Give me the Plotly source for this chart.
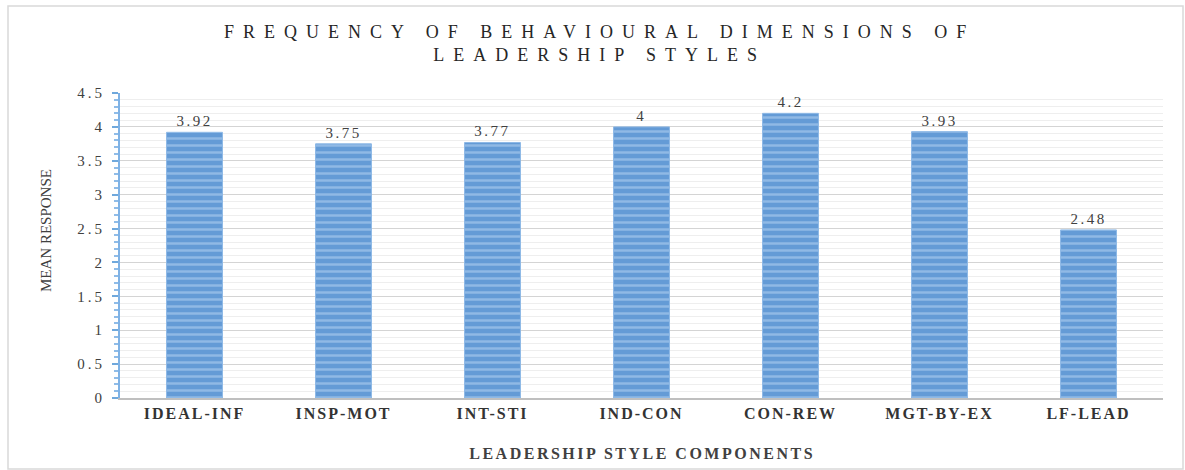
import plotly.graph_objects as go

categories = ["IDEAL-INF", "INSP-MOT", "INT-STI", "IND-CON", "CON-REW", "MGT-BY-EX", "LF-LEAD"]
mean_response = [3.92, 3.75, 3.77, 4, 4.2, 3.93, 2.48]
value_labels = ["3.92", "3.75", "3.77", "4", "4.2", "3.93", "2.48"]
y_tick_vals = [0, 0.5, 1, 1.5, 2, 2.5, 3, 3.5, 4, 4.5]
y_tick_text = ["0", "0.5", "1", "1.5", "2", "2.5", "3", "3.5", "4", "4.5"]

SERIF = "Liberation Serif, DejaVu Serif, serif"
W, H = 1185, 470
L, R, T, B = 120, 22, 93, 72
PW, PH = W - L - R, H - T - B

fig = go.Figure()
fig.add_trace(go.Bar(
    x=categories,
    y=mean_response,
    text=value_labels,
    textposition="outside",
    cliponaxis=False,
    textfont=dict(family=SERIF, size=15, color="#404040"),
    marker=dict(
        color="#6fa5dd",
        line=dict(color="#8db8e6", width=1),
        pattern=dict(shape="-", fgcolor="#bcd8f3", bgcolor="#649bd6", size=7, solidity=0.35),
    ),
    width=0.375,
    hoverinfo="x+y",
))

fig.update_layout(
    width=W, height=H,
    margin=dict(l=L, r=R, t=T, b=B, autoexpand=False),
    paper_bgcolor="white",
    plot_bgcolor="white",
    showlegend=False,
    title=dict(
        text="FREQUENCY OF BEHAVIOURAL DIMENSIONS OF<br>LEADERSHIP STYLES",
        x=0.506, xanchor="center", y=1 - 38 / H, yanchor="top",
        font=dict(family=SERIF, size=18, color="#262626"),
    ),
    font=dict(family=SERIF, color="#404040"),
    shapes=[dict(type="rect", xref="paper", yref="paper",
                 x0=-(L - 8) / PW, x1=(W - L - 2) / PW,
                 y0=-(B - 1) / PH, y1=(PH + T - 6) / PH,
                 line=dict(color="#d9d9d9", width=1.5), layer="below")],
    annotations=[
        dict(text="LEADERSHIP STYLE COMPONENTS", xref="paper", yref="paper",
             x=0.5, y=-(453 - T - PH) / PH, xanchor="center", yanchor="middle",
             showarrow=False,
             font=dict(family=SERIF, size=16, color="#404040", weight="bold")),
        dict(text="MEAN RESPONSE", xref="paper", yref="paper", textangle=-90,
             x=-(L - 46) / PW, y=(T + PH - 231) / PH, xanchor="center", yanchor="middle",
             showarrow=False,
             font=dict(family=SERIF, size=15, color="#404040")),
    ],
)

fig.update_xaxes(
    showline=True, linecolor="#bfbfbf", linewidth=1.5,
    ticks="", showgrid=False, automargin=False,
    tickfont=dict(family=SERIF, size=16, color="#333333", weight="bold"),
)

fig.update_yaxes(
    range=[0, 4.5], automargin=False,
    tickvals=y_tick_vals, ticktext=y_tick_text,
    showline=True, linecolor="#7fb2e5", linewidth=2,
    ticks="outside", ticklen=6, tickcolor="#6fa8dc", tickwidth=1.5,
    ticklabelstandoff=4,
    showgrid=True, gridcolor="#d4d4d4", gridwidth=1,
    minor=dict(dtick=0.1, ticks="outside", ticklen=4, tickcolor="#8fbce8",
               showgrid=True, gridcolor="#eeeeee", gridwidth=1),
    tickfont=dict(family=SERIF, size=15, color="#404040"),
    zeroline=False,
)

post = """
var gd = document.getElementById('{plot_id}');
function sp(sel, v){ gd.querySelectorAll(sel).forEach(function(e){ e.style.letterSpacing = v; }); }
sp('.gtitle', '9px');
sp('.xtick text', '2px');
sp('.ytick text', '3px');
sp('.bartext', '2.5px');
var anns = gd.querySelectorAll('.annotation-text');
if (anns.length) { anns[0].style.letterSpacing = '2.5px'; }
"""

fig.write_html("out.html", post_script=post)
